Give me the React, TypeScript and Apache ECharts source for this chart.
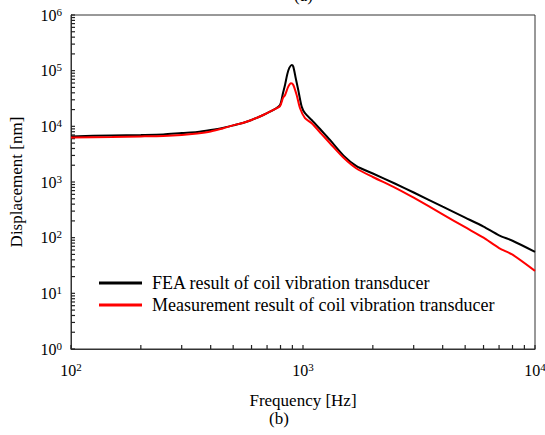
import React, { useEffect, useRef } from 'react';
import * as echarts from 'echarts';

// FEA result (black)
const fFEA = [100, 150, 200, 250, 300, 350, 400, 450, 500, 550, 600, 674, 745, 796, 820, 837, 856, 873, 894, 908, 930, 954, 987, 1020, 1090, 1200, 1307, 1500, 1700, 2000, 2500, 3000, 4000, 5000, 6000, 7000, 8000, 10000];
const vFEA = [6600, 6870, 7000, 7160, 7600, 7940, 8600, 9360, 10400, 11500, 13000, 16000, 19700, 24200, 39800, 56000, 87000, 112000, 126600, 118000, 74000, 45000, 22600, 17200, 13000, 8400, 5700, 2950, 1930, 1420, 930, 648, 360, 229, 158, 110, 88, 55.6];

// Measurement result (red)
const fMeas = [100, 150, 200, 250, 300, 350, 400, 450, 500, 550, 600, 674, 745, 796, 820, 837, 864, 888, 908, 939, 971, 1020, 1090, 1200, 1307, 1500, 1700, 2000, 2500, 3000, 4000, 5000, 6000, 7000, 8000, 10000];
const vMeas = [6320, 6450, 6590, 6730, 7010, 7460, 8090, 9170, 10400, 11500, 13000, 16000, 19700, 23000, 32400, 36600, 51600, 59400, 55400, 36600, 21100, 14000, 11400, 7340, 4970, 2690, 1750, 1230, 787, 523, 263, 154, 100, 65, 49.5, 25.3];

const seriesNames = [
  'FEA result of coil vibration transducer',
  'Measurement result of coil vibration transducer',
];

const xMin = 100;
const xMax = 10000;
const yMin = 1;
const yMax = 1000000;

const xTitle = 'Frequency [Hz]';
const yTitle = 'Displacement [nm]';

// tick values k x 10^e, k = 1..9, for the decades between lo and hi
function logTickValues(lo: number, hi: number): number[] {
  const t: number[] = [];
  for (let d = lo; d < hi; d *= 10) {
    for (let k = 1; k < 10; k++) t.push(k * d);
  }
  t.push(hi);
  return t;
}

const xTickValues = logTickValues(xMin, xMax);
const yTickValues = logTickValues(yMin, yMax);

const FONT = 'Liberation Serif';
const AXIS_COLOR = '#333';
const TICK_COLOR = '#222';
const TICK_LEN = 4;

const rich = {
  b: { fontSize: 16, fontFamily: FONT, color: '#000', lineHeight: 18 },
  s: { fontSize: 11, fontFamily: FONT, color: '#000', verticalAlign: 'top' as const, lineHeight: 12 },
};

const supLabel = (v: number) => `{b|10}{s|${Math.round(Math.log10(v))}}`;

export default function App() {
  const ref = useRef<HTMLDivElement>(null);
  useEffect(() => {
    if (!ref.current) return;
    const chart = echarts.init(ref.current, undefined, { renderer: 'svg' });
    const lineStyle = { color: AXIS_COLOR, width: 1 };
    const option: any = {
      animation: false,
      backgroundColor: '#fff',
      textStyle: { fontFamily: FONT },
      grid: {
        left: 71,
        right: 10,
        top: 15,
        bottom: 86,
        containLabel: false,
        outerBoundsMode: 'none',
        show: true,
        borderColor: AXIS_COLOR,
        borderWidth: 1,
        backgroundColor: 'transparent',
      },
      legend: {
        orient: 'vertical',
        left: 99,
        top: 274,
        padding: 0,
        itemWidth: 43,
        itemHeight: 3,
        itemGap: 4,
        icon: 'rect',
        data: seriesNames,
        textStyle: {
          fontFamily: FONT,
          fontSize: 18,
          color: '#000',
          lineHeight: 18,
          padding: [0, 0, 0, 5],
        },
      },
      xAxis: {
        type: 'log',
        logBase: 10,
        min: xMin,
        max: xMax,
        name: xTitle,
        nameLocation: 'middle',
        nameGap: 44,
        nameTextStyle: { fontFamily: FONT, fontSize: 17, lineHeight: 14, color: '#000' },
        axisLine: { show: true, lineStyle },
        axisTick: { show: false },
        minorTick: { show: false },
        splitLine: { show: false },
        axisLabel: { show: true, margin: 12, fontFamily: FONT, formatter: supLabel, rich },
      },
      yAxis: {
        type: 'log',
        logBase: 10,
        min: yMin,
        max: yMax,
        name: yTitle,
        nameLocation: 'middle',
        nameGap: 46,
        nameRotate: 90,
        nameTextStyle: { fontFamily: FONT, fontSize: 17, color: '#000' },
        axisLine: { show: true, lineStyle },
        axisTick: { show: false },
        minorTick: { show: false },
        splitLine: { show: false },
        axisLabel: { show: true, margin: 9, fontFamily: FONT, formatter: supLabel, rich },
      },
      series: [
        {
          name: seriesNames[0],
          type: 'line',
          data: fFEA.map((f, i) => [f, vFEA[i]]),
          showSymbol: false,
          symbol: 'none',
          smooth: 0.25,
          color: '#000',
          lineStyle: { color: '#000', width: 2 },
          z: 2,
        },
        {
          name: seriesNames[1],
          type: 'line',
          data: fMeas.map((f, i) => [f, vMeas[i]]),
          showSymbol: false,
          symbol: 'none',
          smooth: 0.25,
          color: '#ff0000',
          lineStyle: { color: '#ff0000', width: 2 },
          z: 3,
        },
        {
          // inward ticks on the bottom axis, placed through the axis scale
          type: 'custom',
          silent: true,
          clip: false,
          z: 1,
          encode: { x: 0, y: 1 },
          data: xTickValues.map((f) => [f, yMin]),
          renderItem: (params: any, api: any) => {
            const p = api.coord([api.value(0), api.value(1)]);
            return {
              type: 'line',
              shape: { x1: p[0], y1: p[1], x2: p[0], y2: p[1] - TICK_LEN },
              style: { stroke: TICK_COLOR, lineWidth: 1.2 },
            };
          },
        },
        {
          // inward ticks on the left axis
          type: 'custom',
          silent: true,
          clip: false,
          z: 1,
          encode: { x: 0, y: 1 },
          data: yTickValues.map((v) => [xMin, v]),
          renderItem: (params: any, api: any) => {
            const p = api.coord([api.value(0), api.value(1)]);
            return {
              type: 'line',
              shape: { x1: p[0], y1: p[1], x2: p[0] + TICK_LEN, y2: p[1] },
              style: { stroke: TICK_COLOR, lineWidth: 1.2 },
            };
          },
        },
      ],
      graphic: [
        {
          type: 'text',
          left: 294,
          top: -13,
          style: { text: '(a)', fontFamily: FONT, fontSize: 17, fill: '#000' },
        },
        {
          type: 'text',
          left: 269,
          top: 410,
          style: { text: '(b)', fontFamily: FONT, fontSize: 17, lineHeight: 14, fill: '#000' },
        },
      ],
    };
    chart.setOption(option);
    return () => chart.dispose();
  }, []);
  return (
    <div
      ref={ref}
      style={{ position: 'fixed', left: 0, top: 0, width: 545, height: 435, background: '#fff' }}
    />
  );
}
